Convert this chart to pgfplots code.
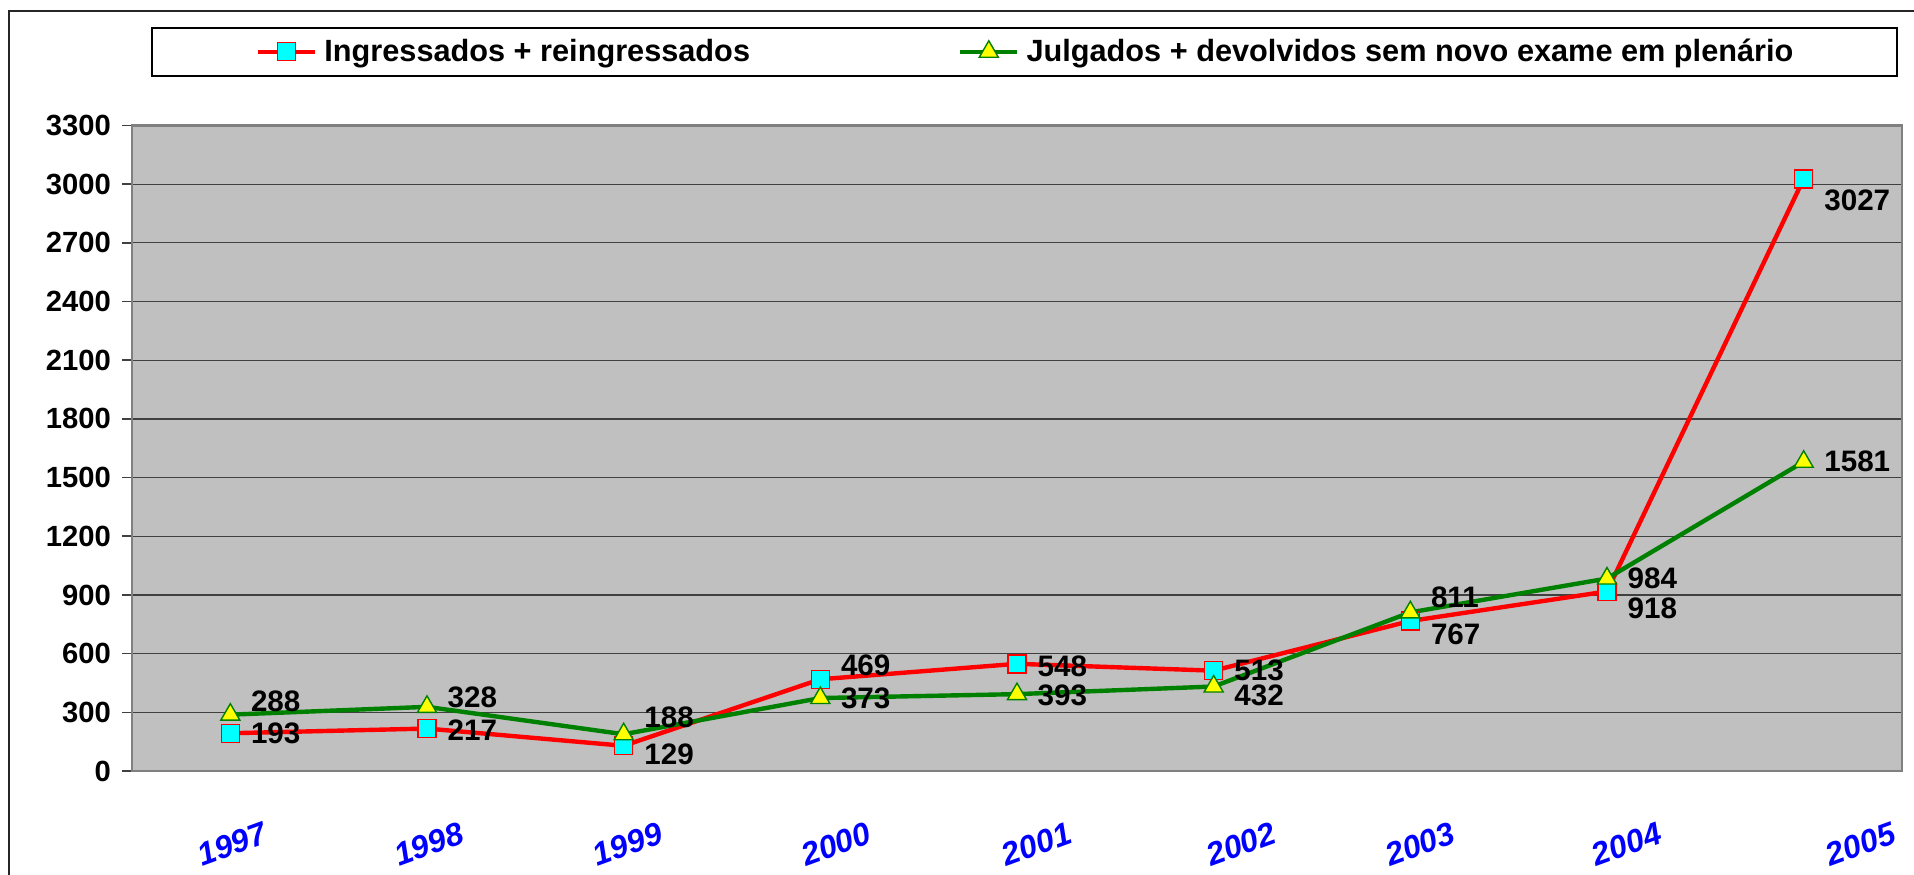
\documentclass[border=0pt]{standalone}
\usepackage{fontspec}
\setmainfont{Liberation Sans}
\usepackage{pgfplots}
\pgfplotsset{compat=1.18}
\usepackage{pgfplotstable}

\definecolor{plotbg}{RGB}{192,192,192}
\definecolor{xred}{RGB}{255,0,0}
\definecolor{xgreen}{RGB}{0,128,0}
\definecolor{xcyan}{RGB}{0,255,255}
\definecolor{xyellow}{RGB}{255,255,0}
\definecolor{xblue}{RGB}{0,0,255}
\definecolor{bordergray}{RGB}{128,128,128}

\pgfplotstableread{
x y dy
0 193 0
1 217 -0.75
2 129 -4.5
3 469 6.75
4 548 -1
5 513 0
6 767 -6.5
7 918 -8.5
8 3027 -10.5
}\ingressados

\pgfplotstableread{
x y dy
0 288 6.8
1 328 5
2 188 8.25
3 373 0
4 393 -0.5
5 432 -4.25
6 811 7.3
7 984 0
8 1581 0
}\julgados

\begin{document}
\begin{tikzpicture}
\begin{axis}[
  scale only axis,
  width=885pt, height=322.75pt,
  xmin=-0.5, xmax=8.5,
  ymin=0, ymax=3300,
  ytick={0,300,...,3300},
  xtick={-0.02,0.98,1.99,3.05,4.07,5.11,6.02,7.07,8.26},
  xticklabels={1997,1998,1999,2000,2001,2002,2003,2004,2005},
  xtick style={draw=none},
  ytick pos=left,
  tick align=outside,
  major tick length=5pt,
  ytick style={draw=black!75, line width=0.8pt},
  axis background/.style={fill=plotbg},
  axis line style={draw=bordergray, line width=1.2pt},
  ymajorgrids,
  grid style={draw=black!75, line width=0.6pt},
  /pgf/number format/.cd, fixed, precision=0, 1000 sep={}, assume math mode=true,
  /pgfplots/.cd,
  yticklabel style={font=\fontsize{14.6}{17}\selectfont\bfseries, xshift=-2pt},
  xticklabel style={font=\fontsize{16}{19}\selectfont\bfseries\itshape, text=xblue, rotate=20, anchor=center, yshift=-30.5pt, xshift=-8pt},
  legend columns=2,
  legend cell align=left,
  legend image code/.code={
    \draw[mark repeat=2,mark phase=2,#1] plot coordinates {(0pt,0pt) (14.25pt,0pt) (28.5pt,0pt)};
  },
  legend style={
    at={(0.01073,1.1526)}, anchor=north west,
    draw=black, line width=1pt, fill=white,
    inner xsep=52pt, inner ysep=5.5pt,
    font=\fontsize{15.35}{18}\selectfont\bfseries,
    nodes={inner sep=0pt},
    /tikz/every odd column/.append style={column sep=3.5pt},
    /tikz/every even column/.append style={column sep=104pt},
  },
  nodes near coords,
  point meta=y,
  visualization depends on={\thisrow{dy} \as \dy},
  every node near coord/.append style={
    font=\fontsize{14.8}{17}\selectfont\bfseries, text=black,
    anchor=west, inner sep=0pt, xshift=10pt, yshift=\dy pt},
]
\addplot[xred, line width=2.2pt, mark=square*,
  mark size=4.5pt, mark options={fill=xcyan, draw=xred, line width=0.7pt, solid}]
  table[x=x, y=y] {\ingressados};
\addlegendentry{Ingressados + reingressados}
\addplot[xgreen, line width=2.2pt, mark=triangle*,
  mark size=5.5pt, mark options={fill=xyellow, draw=xgreen, line width=0.7pt, solid}]
  table[x=x, y=y] {\julgados};
\addlegendentry{Julgados + devolvidos sem novo exame em plenário}
\end{axis}
\draw[black!85, line width=0.8pt] (-61.5pt,-80pt) -- (-61.5pt,380pt) -- (920pt,380pt);
\pgfresetboundingbox
\path[use as bounding box] (-66pt,-51.5pt) rectangle (891pt,385.5pt);
\end{tikzpicture}
\end{document}
